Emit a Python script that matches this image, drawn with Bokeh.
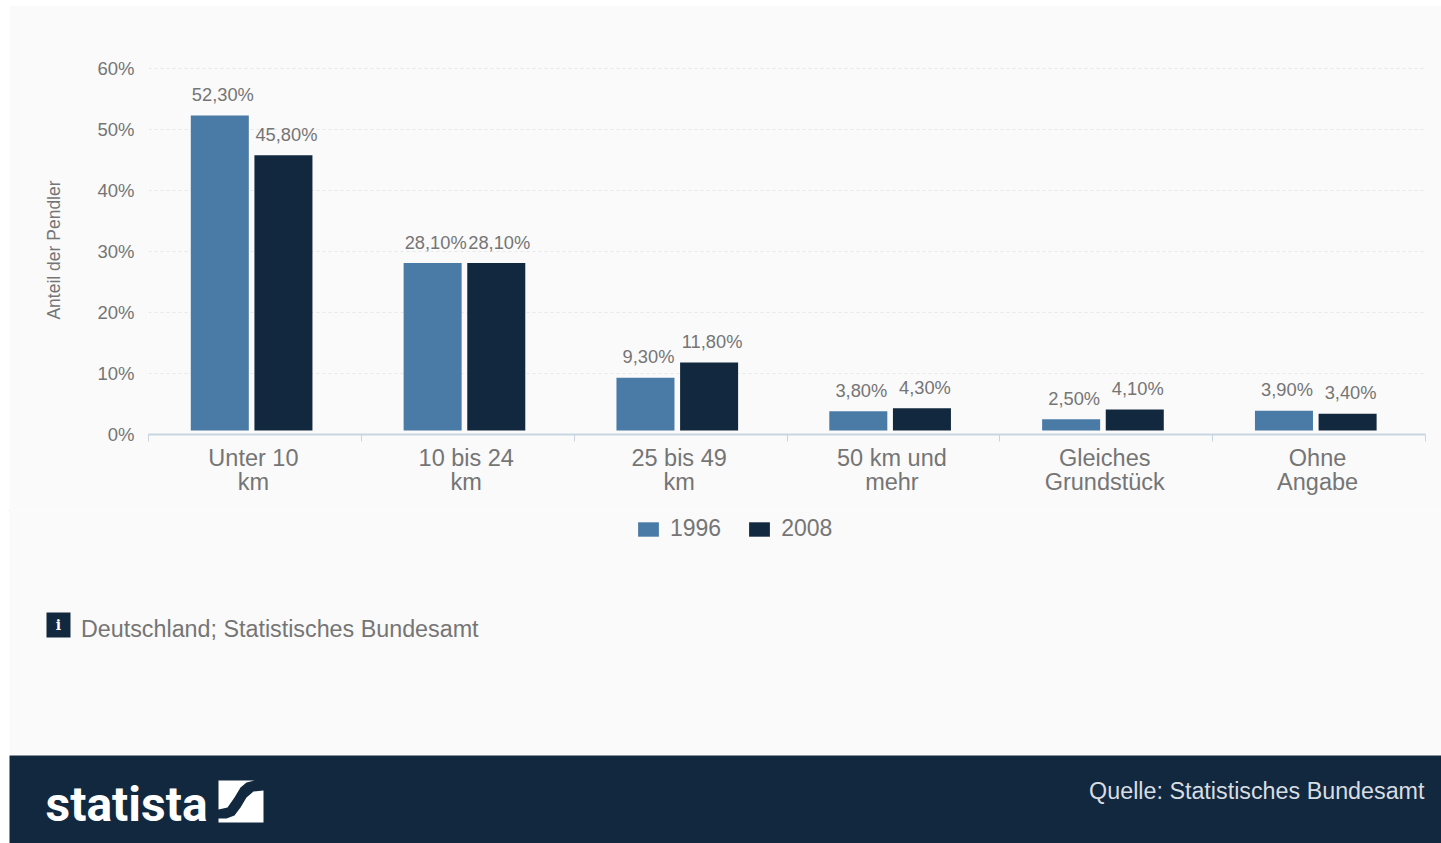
from bokeh.plotting import figure
from bokeh.models import (ColumnDataSource, Range1d, LinearAxis, FixedTicker,
                          PrintfTickFormatter, Legend, LegendItem)
from bokeh.layouts import column
from bokeh.transform import dodge
from bokeh.core.properties import value
from bokeh.embed import file_html
from bokeh.resources import INLINE

categories = ["Unter 10\nkm", "10 bis 24\nkm", "25 bis 49\nkm", "50 km und\nmehr", "Gleiches\nGrundstück", "Ohne\nAngabe"]
series_names = ["1996", "2008"]
values_1996 = [52.3, 28.1, 9.3, 3.8, 2.5, 3.9]
values_2008 = [45.8, 28.1, 11.8, 4.3, 4.1, 3.4]
y_ticks = [0, 10, 20, 30, 40, 50, 60]
bar_base = 0.65

BG = "#fafafa"; BLUE = "#4a7ba6"; NAVY = "#12283f"; GREY = "#757575"
FONT = "Liberation Sans"


def fmt(v):
    return f"{v:.2f}".replace(".", ",") + "%"


n = len(categories)
centers = [i + 0.5 for i in range(n)]
label_pos = [c - 0.007 for c in centers]

W = 1432
p = figure(width=W, height=505, output_backend="svg", toolbar_location=None,
           x_range=Range1d(0, n), y_range=Range1d(0, 60.5), x_axis_location=None, y_axis_location="left",
           background_fill_color=BG, border_fill_color=BG, outline_line_color=None,
           min_border_left=139, min_border_right=16, min_border_top=60, min_border_bottom=76)
p.frame_align = False

src = ColumnDataSource(dict(x=centers, a=values_1996, b=values_2008,
                            base=[bar_base] * n,
                            la=[fmt(v) for v in values_1996], lb=[fmt(v) for v in values_2008]))

r1 = p.vbar(x=dodge("x", -0.165), top="a", bottom="base", width=0.2726,
            source=src, fill_color=BLUE, line_color=None)
r2 = p.vbar(x=dodge("x", 0.134), top="b", bottom="base", width=0.2726,
            source=src, fill_color=NAVY, line_color=None)

for col, lab, off in (("a", "la", -0.165), ("b", "lb", 0.134)):
    p.text(x=dodge("x", off), y=col, text=lab, source=src, x_offset=3, y_offset=-21,
           text_align="center", text_baseline="middle", text_color=GREY,
           text_font=value(FONT), text_font_size="18.3px")

# y axis
ya = p.yaxis[0]
ya.ticker = FixedTicker(ticks=y_ticks)
ya.formatter = PrintfTickFormatter(format="%d%%")
ya.axis_line_color = None
ya.major_tick_line_color = None
ya.minor_tick_line_color = None
ya.major_label_standoff = 8
ya.major_label_text_color = GREY
ya.major_label_text_font = FONT
ya.major_label_text_font_size = "18.5px"
ya.axis_label = "Anteil der Pendler"
ya.axis_label_text_color = GREY
ya.axis_label_text_font = FONT
ya.axis_label_text_font_size = "17.5px"
ya.axis_label_text_font_style = "normal"
ya.axis_label_standoff = 30

p.xgrid.visible = False
p.ygrid.ticker = FixedTicker(ticks=y_ticks)
p.ygrid.grid_line_color = "#e6e8ea"
p.ygrid.grid_line_dash = "3 3"

# tick marks on category boundaries
edge_axis = LinearAxis(ticker=FixedTicker(ticks=list(range(n + 1))),
                       major_label_text_color=None, major_label_text_font_size="1px",
                       major_label_standoff=0, axis_line_color="#c8d5e1", axis_line_width=2,
                       major_tick_line_color="#c8d5e1", major_tick_line_width=1,
                       major_tick_in=0, major_tick_out=7, minor_tick_line_color=None)
p.add_layout(edge_axis, "below")

cat_axis = LinearAxis(ticker=FixedTicker(ticks=label_pos),
                      major_label_overrides=dict(zip(label_pos, categories)),
                      axis_line_color=None, major_tick_line_color=None, minor_tick_line_color=None,
                      major_label_text_color=GREY, major_label_text_font=FONT,
                      major_label_text_font_size="23.5px", major_label_standoff=-3,
                      major_label_text_line_height=0.96,
                      major_label_orientation="horizontal")
p.add_layout(cat_axis, "below")

# legend and note strip (ranges in page pixels)
m = figure(width=W, height=245, output_backend="svg", toolbar_location=None,
           x_range=Range1d(9, 1441), y_range=Range1d(755, 510), x_axis_location=None, y_axis_location=None,
           background_fill_color=BG, border_fill_color=BG, outline_line_color=None, min_border=0)
m.frame_align = False
m.grid.visible = False
k1 = m.vbar(x=[0], top=[0], bottom=[0], width=1, fill_color=BLUE, line_color=None)
k2 = m.vbar(x=[0], top=[0], bottom=[0], width=1, fill_color=NAVY, line_color=None)
legend = Legend(items=[LegendItem(label=series_names[0], renderers=[k1]), LegendItem(label=series_names[1], renderers=[k2])],
                orientation="horizontal", location=(626, 213), background_fill_alpha=0, border_line_color=None,
                glyph_width=26, glyph_height=18, label_text_color=GREY, label_text_font=FONT,
                label_text_font_size="23px", spacing=25, margin=0, padding=0, label_standoff=9)
m.add_layout(legend, "center")
m.quad(left=[46], right=[70], top=[612], bottom=[637], fill_color=NAVY, line_color=None)
m.text(x=[58], y=[624.5], text=["i"], text_color="white", text_font=value("DejaVu Serif"), text_font_style="bold",
       text_font_size="14px", text_align="center", text_baseline="middle")
m.text(x=[80.5], y=[628], text=["Deutschland; Statistisches Bundesamt"], text_color=GREY, text_font=value(FONT),
       text_font_size="23.3px", text_baseline="middle")

# footer (ranges in page pixels)
f = figure(width=W, height=88, output_backend="svg", toolbar_location=None,
           x_range=Range1d(9, 1441), y_range=Range1d(843, 755), x_axis_location=None, y_axis_location=None,
           background_fill_color=NAVY, border_fill_color=NAVY, outline_line_color=None, min_border=0)
f.frame_align = False
f.grid.visible = False
f.text(x=[45], y=[804], text=["statista"], text_color="white", text_font=value("Roboto"),
       text_font_style="bold", text_font_size="48px", text_baseline="middle", text_align="left")
f.patch(x=[218, 254, 246, 240, 234, 227, 218], y=[780, 780, 782, 787, 797, 807, 809], fill_color="white", line_color=None)
f.patch(x=[263, 253, 246, 240, 234, 226, 218, 218, 263], y=[790, 791, 797, 807, 815, 818, 818, 822, 822], fill_color="white", line_color=None)
f.text(x=[1424], y=[790], text=["Quelle: Statistisches Bundesamt"], text_color="#d8dde2", text_font=value(FONT),
       text_font_size="23.3px", text_baseline="middle", text_align="right")

page = column(p, m, f, spacing=0, margin=(5, 0, 0, 9))
open("out.html", "w").write(file_html(page, INLINE))
